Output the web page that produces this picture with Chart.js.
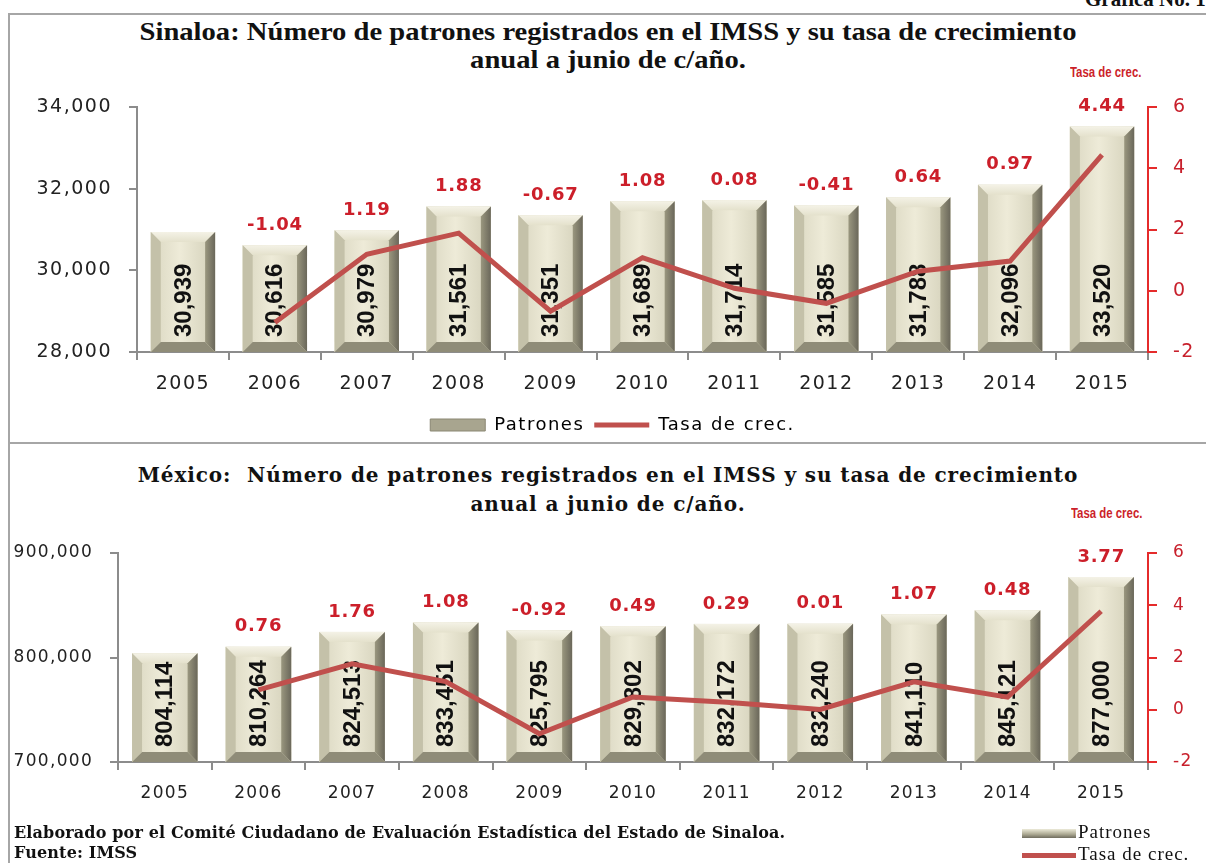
<!DOCTYPE html>
<html>
<head>
<meta charset="utf-8">
<script src="https://cdn.jsdelivr.net/npm/chart.js@4.4.1/dist/chart.umd.min.js"></script>
<style>
  body { margin: 0; background: #fff; width: 1206px; height: 863px; overflow: hidden; position: relative; }
  .abs { position: absolute; }
  .line { position: absolute; background: #a6a6a6; z-index: 2; }
  .title { position: absolute; left: 0; width: 1216px; text-align: center; font-weight: bold; color: #111; }
  .tasa { position: absolute; font-family: "Liberation Sans", sans-serif; font-weight: bold; color: #cc1f2a; font-size: 15px; transform: scaleX(0.76); transform-origin: 0 0; }
  .foot { position: absolute; left: 14px; font-family: "DejaVu Serif", serif; font-weight: bold; font-size: 16px; color: #111; line-height: 20px; letter-spacing: 0.15px; }
  .leg { position: absolute; left: 1022px; font-family: "Liberation Serif", serif; font-size: 19px; color: #111; letter-spacing: 1px; }
  .leg span.box { display: inline-block; width: 54px; vertical-align: middle; margin-right: 2px; }
</style>
</head>
<body>
<div class="abs" style="left:1085px; top:-13px; font:bold 21px 'Liberation Serif', serif; color:#111;">Gráfica No. 1</div>
<div class="line" style="left:8px; top:13px; width:1198px; height:2px;"></div>
<div class="line" style="left:8px; top:13px; width:2px; height:850px;"></div>
<div class="line" style="left:8px; top:442px; width:1198px; height:2px;"></div>

<div class="title" style="top:18px; font-family:'Liberation Serif', serif; font-size:26px; line-height:28px; transform:scaleX(1.1); transform-origin:608px 0;">Sinaloa: Número de patrones registrados en el IMSS y su tasa de crecimiento<br>anual a junio de c/año.</div>
<div class="tasa" style="left:1070px; top:63px;">Tasa de crec.</div>
<canvas id="sinaloa" class="abs" style="left:0; top:88px;" width="1206" height="356"></canvas>

<div class="title" style="top:461px; font-family:'DejaVu Serif', serif; font-size:20px; line-height:29px; letter-spacing:0.9px;">México:&nbsp; Número de patrones registrados en el IMSS y su tasa de crecimiento<br>anual a junio de c/año.</div>
<div class="tasa" style="left:1071px; top:504px;">Tasa de crec.</div>
<canvas id="mexico" class="abs" style="left:0; top:530px;" width="1206" height="300"></canvas>

<div class="foot" style="top:823px;">Elaborado por el Comité Ciudadano de Evaluación Estadística del Estado de Sinaloa.<br>Fuente: IMSS</div>
<div class="leg" style="top:821px;"><span class="box" style="height:9px; background:linear-gradient(#ecead8,#a9a690 60%,#6f6c5e);"></span>Patrones</div>
<div class="leg" style="top:843px;"><span class="box" style="height:5px; background:#c0504d;"></span>Tasa de crec.</div>

<script>
const years = ['2005', '2006', '2007', '2008', '2009', '2010', '2011', '2012', '2013', '2014', '2015'];

const sinaloaPatrones = [30939, 30616, 30979, 31561, 31351, 31689, 31714, 31585, 31788, 32096, 33520];
const sinaloaTasa = [null, -1.04, 1.19, 1.88, -0.67, 1.08, 0.08, -0.41, 0.64, 0.97, 4.44];

const mexicoPatrones = [804114, 810264, 824513, 833451, 825795, 829802, 832172, 832240, 841110, 845121, 877000];
const mexicoTasa = [null, 0.76, 1.76, 1.08, -0.92, 0.49, 0.29, 0.01, 1.07, 0.48, 3.77];

const lineRed = '#c0504d';
const labelRed = '#cc1f2a';
const axisGray = '#8c8c8c';

// the original's axis text is set wide, so space the letters a little
const spacing = {
    id: 'spacing',
    beforeUpdate(chart, args, opts) { chart.ctx.letterSpacing = opts.px; },
    beforeDraw(chart, args, opts) { chart.ctx.letterSpacing = opts.px; }
};

// bevelled "3D" bars + rotated value labels, drawn right after the bar dataset
const bevelBars = {
    id: 'bevelBars',
    afterDatasetDraw(chart, args) {
        if (chart.data.datasets[args.index].type !== 'bar') return;
        const ctx = chart.ctx;
        const b = 10;
        args.meta.data.forEach((bar, i) => {
            const l = bar.x - bar.width / 2, r = bar.x + bar.width / 2;
            const t = bar.y, bt = Math.min(bar.base, chart.chartArea.bottom);
            ctx.save();
            const face = ctx.createLinearGradient(l, 0, r, 0);
            face.addColorStop(0, '#d9d6c0');
            face.addColorStop(0.45, '#eeebd8');
            face.addColorStop(1, '#d2cfb8');
            ctx.fillStyle = face;
            ctx.fillRect(l, t, r - l, bt - t);
            const poly = (pts, col) => {
                ctx.beginPath();
                ctx.moveTo(pts[0][0], pts[0][1]);
                pts.slice(1).forEach(p => ctx.lineTo(p[0], p[1]));
                ctx.closePath();
                ctx.fillStyle = col;
                ctx.fill();
            };
            const top = ctx.createLinearGradient(0, t, 0, t + b);
            top.addColorStop(0, '#f4f2e6');
            top.addColorStop(1, '#e4e1cc');
            poly([[l, t], [r, t], [r - b, t + b], [l + b, t + b]], top);
            poly([[l, t], [l + b, t + b], [l + b, bt - b], [l, bt]], '#c4c1a9');
            const right = ctx.createLinearGradient(r - b, 0, r, 0);
            right.addColorStop(0, '#9a977f');
            right.addColorStop(1, '#6a675a');
            poly([[r, t], [r, bt], [r - b, bt - b], [r - b, t + b]], right);
            poly([[l, bt], [r, bt], [r - b, bt - b], [l + b, bt - b]], '#8f8c78');
            ctx.restore();

            const v = chart.data.datasets[args.index].data[i];
            ctx.save();
            ctx.letterSpacing = '0px';
            ctx.translate(bar.x, bt - 15);
            ctx.rotate(-Math.PI / 2);
            ctx.font = 'bold 24px "Liberation Sans", Arial, sans-serif';
            ctx.fillStyle = '#111';
            ctx.textAlign = 'left';
            ctx.textBaseline = 'middle';
            ctx.fillText(v.toLocaleString('en-US'), 0, 1);
            ctx.restore();
        });
    },
    afterDatasetsDraw(chart) {
        const ctx = chart.ctx;
        const bars = chart.getDatasetMeta(0).data;
        const rates = chart.data.datasets[1].data;
        ctx.save();
        ctx.letterSpacing = '0.8px';
        ctx.font = 'bold 18px "DejaVu Sans", sans-serif';
        ctx.fillStyle = labelRed;
        ctx.textAlign = 'center';
        ctx.textBaseline = 'middle';
        bars.forEach((bar, i) => {
            if (rates[i] === null) return;
            ctx.fillText(rates[i].toFixed(2), bar.x, bar.y - 20);
        });
        ctx.restore();
    }
};

// keep the tick labels from pushing the plot area down
const noPad = s => { s.paddingTop = 0; s.paddingBottom = 0; };

function makeChart(id, patrones, tasa, yMin, yMax, yStep, padLeft, leftW, xH, showLegend, padTop, fs, ls) {
    const tickFont = { family: '"DejaVu Sans", sans-serif', size: fs };
    return new Chart(document.getElementById(id), {
        data: {
            labels: years,
            datasets: [{
                type: 'bar',
                label: 'Patrones',
                data: patrones,
                backgroundColor: '#e6e3cf',
                yAxisID: 'y',
                order: 2,
                categoryPercentage: 1,
                barPercentage: 0.7
            }, {
                type: 'line',
                label: 'Tasa de crec.',
                data: tasa,
                borderColor: lineRed,
                backgroundColor: lineRed,
                borderWidth: 5,
                pointRadius: 0,
                tension: 0,
                yAxisID: 'y1',
                order: 1
            }]
        },
        options: {
            responsive: false,
            animation: false,
            layout: { padding: { top: padTop, left: padLeft, right: 0, bottom: 0 } },
            plugins: {
                spacing: { px: ls },
                tooltip: { enabled: false },
                legend: {
                    display: showLegend,
                    position: 'bottom',
                    labels: {
                        usePointStyle: true,
                        pointStyleWidth: 55,
                        boxHeight: 12,
                        padding: 10,
                        color: '#333',
                        font: { family: '"DejaVu Sans", sans-serif', size: 18 },
                        generateLabels: chart => [
                            { text: 'Patrones', pointStyle: 'rect', fillStyle: '#a8a58f', strokeStyle: '#8a8773', lineWidth: 1, datasetIndex: 0 },
                            { text: 'Tasa de crec.', pointStyle: 'line', fillStyle: lineRed, strokeStyle: lineRed, lineWidth: 5, datasetIndex: 1 }
                        ]
                    }
                }
            },
            scales: {
                x: {
                    afterFit: s => { s.height = xH; },
                    grid: { offset: true, drawOnChartArea: false, tickLength: 8, color: axisGray, lineWidth: 2 },
                    border: { color: axisGray, width: 2 },
                    ticks: { padding: 13, color: '#222', font: tickFont }
                },
                y: {
                    position: 'left',
                    min: yMin,
                    max: yMax,
                    afterFit: s => { s.width = leftW; noPad(s); },
                    grid: { drawOnChartArea: false, tickLength: 8, color: axisGray, lineWidth: 2 },
                    border: { color: axisGray, width: 2 },
                    ticks: {
                        stepSize: yStep,
                        padding: 17,
                        color: '#222',
                        font: tickFont,
                        callback: v => v.toLocaleString('en-US')
                    }
                },
                y1: {
                    position: 'right',
                    min: -2,
                    max: 6,
                    afterFit: s => { s.width = 58; noPad(s); },
                    grid: { drawOnChartArea: false, tickLength: 9, color: '#e52b2b', lineWidth: 2 },
                    border: { color: '#e52b2b', width: 2 },
                    ticks: { stepSize: 2, padding: 16, color: '#c8202c', font: tickFont }
                }
            }
        },
        plugins: [spacing, bevelBars]
    });
}

makeChart('sinaloa', sinaloaPatrones, sinaloaTasa, 28000, 34000, 2000, 19, 118, 54, true, 19, 19, '1.5px');
makeChart('mexico', mexicoPatrones, mexicoTasa, 700000, 900000, 100000, 0, 118, 68, false, 23, 17, '1.3px');
</script>
</body>
</html>
